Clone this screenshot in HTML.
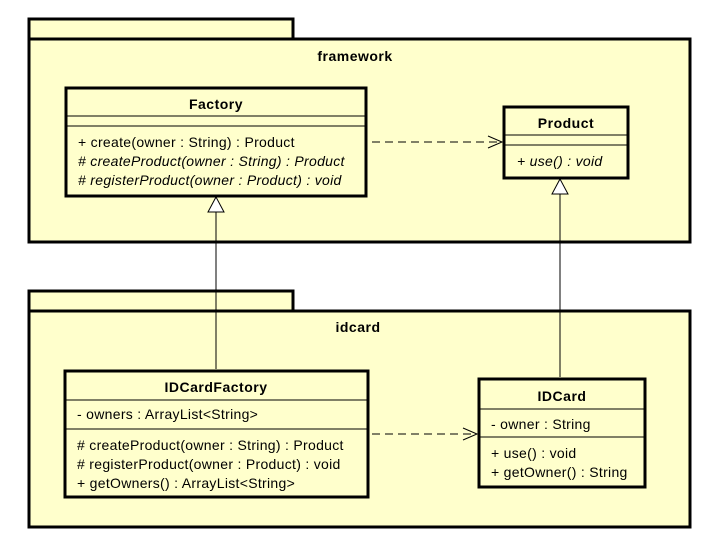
<!DOCTYPE html>
<html><head><meta charset="utf-8"><style>
html,body{margin:0;padding:0;background:#fff;width:719px;height:560px;overflow:hidden}
text{font-family:"Liberation Sans",Arial,sans-serif;font-size:14px;fill:#000;letter-spacing:0.3px}
.b{font-weight:bold;letter-spacing:0.5px}
.i{font-style:italic}
</style></head><body>
<svg width="719" height="560" xmlns="http://www.w3.org/2000/svg">
<g fill="#ffffcc" stroke="#000" stroke-width="3">
<rect x="29" y="19" width="264" height="20"/>
<rect x="29" y="39" width="661" height="203"/>
<rect x="29" y="291" width="264" height="20"/>
<rect x="29" y="311" width="661" height="216"/>
</g>
<text x="355" y="61" text-anchor="middle" class="b">framework</text>
<text x="358" y="332" text-anchor="middle" class="b">idcard</text>

<!-- Factory -->
<rect x="66" y="88" width="300" height="108" fill="#ffffcc" stroke="#000" stroke-width="3"/>
<line x1="66" y1="116" x2="366" y2="116" stroke="#000"/>
<line x1="66" y1="126" x2="366" y2="126" stroke="#000"/>
<text x="216" y="109" text-anchor="middle" class="b">Factory</text>
<text x="78" y="147">+ create(owner : String) : Product</text>
<text x="78" y="166" class="i"># createProduct(owner : String) : Product</text>
<text x="78" y="185" class="i"># registerProduct(owner : Product) : void</text>

<!-- Product -->
<rect x="504" y="107" width="124" height="71" fill="#ffffcc" stroke="#000" stroke-width="3"/>
<line x1="504" y1="135" x2="628" y2="135" stroke="#000"/>
<line x1="504" y1="145" x2="628" y2="145" stroke="#000"/>
<text x="566" y="128" text-anchor="middle" class="b">Product</text>
<text x="517" y="166" class="i">+ use() : void</text>

<!-- IDCardFactory -->
<rect x="65" y="371" width="303" height="126" fill="#ffffcc" stroke="#000" stroke-width="3"/>
<line x1="65" y1="400" x2="368" y2="400" stroke="#000"/>
<line x1="65" y1="429" x2="368" y2="429" stroke="#000"/>
<text x="216" y="392" text-anchor="middle" class="b">IDCardFactory</text>
<text x="77" y="419">- owners : ArrayList&lt;String&gt;</text>
<text x="77" y="450"># createProduct(owner : String) : Product</text>
<text x="77" y="469"># registerProduct(owner : Product) : void</text>
<text x="77" y="488">+ getOwners() : ArrayList&lt;String&gt;</text>

<!-- IDCard -->
<rect x="479" y="379" width="166" height="108" fill="#ffffcc" stroke="#000" stroke-width="3"/>
<line x1="479" y1="409" x2="645" y2="409" stroke="#000"/>
<line x1="479" y1="437" x2="645" y2="437" stroke="#000"/>
<text x="562" y="401" text-anchor="middle" class="b">IDCard</text>
<text x="491" y="429">- owner : String</text>
<text x="491" y="458">+ use() : void</text>
<text x="491" y="477">+ getOwner() : String</text>

<!-- dependencies -->
<g stroke="#000" fill="none" stroke-width="1">
<line x1="372" y1="142" x2="501" y2="142" stroke-dasharray="8,5"/>
<polyline points="488,136 502,142 488,148"/>
<line x1="372" y1="434" x2="476" y2="434" stroke-dasharray="8,5"/>
<polyline points="463,428 477,434 463,440"/>
<line x1="216" y1="369" x2="216" y2="212"/>
<polygon points="216,197 208,212 224,212" fill="#fff"/>
<line x1="560" y1="377" x2="560" y2="194"/>
<polygon points="560,179 552,194 568,194" fill="#fff"/>
</g>
</svg>
</body></html>
